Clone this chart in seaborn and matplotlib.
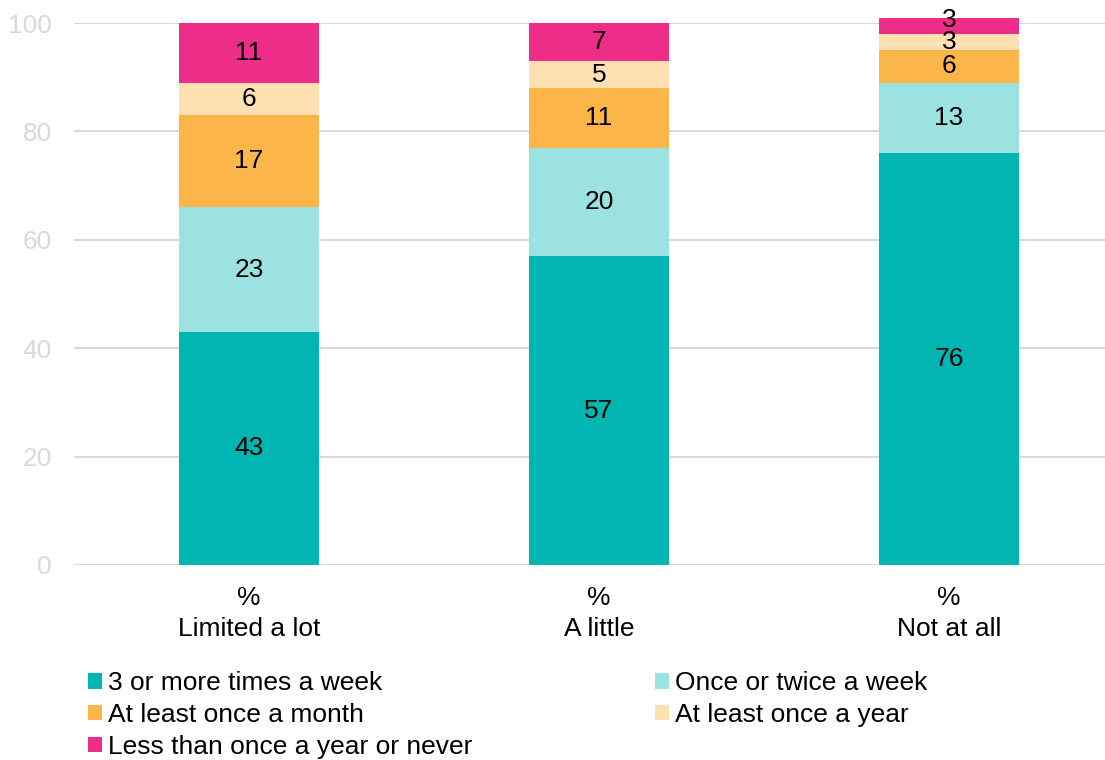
import numpy as np
import pandas as pd
import matplotlib
matplotlib.use("Agg")
import matplotlib.pyplot as plt
from matplotlib.patches import Patch
import seaborn as sns

# Data
categories = ["Limited a lot", "A little", "Not at all"]
tick_labels = ["%\nLimited a lot", "%\nA little", "%\nNot at all"]
series_names = [
    "3 or more times a week",
    "Once or twice a week",
    "At least once a month",
    "At least once a year",
    "Less than once a year or never",
]
three_plus_week = [43, 57, 76]
once_twice_week = [23, 20, 13]
once_month = [17, 11, 6]
once_year = [6, 5, 3]
less_never = [11, 7, 3]
series_values = [three_plus_week, once_twice_week, once_month, once_year, less_never]
colors = ["#00B5B2", "#9CE2E0", "#FBB548", "#FFE0B3", "#EE2D88"]

sns.set_theme(style="white")
plt.rcParams["font.family"] = ["Liberation Sans", "DejaVu Sans"]
FS = 19

fig = plt.figure(figsize=(11.05, 7.6), dpi=100)
ax = fig.add_axes([0.067, 0.2566, 0.933, 0.7131])

bottom = np.zeros(len(categories))
for name, vals, col in zip(series_names, series_values, colors):
    df = pd.DataFrame({"category": categories, "value": vals})
    sns.barplot(data=df, x="category", y="value", bottom=bottom, color=col,
                width=0.4, saturation=1, ax=ax, linewidth=0, clip_on=False,
                zorder=3)
    bottom = bottom + np.array(vals, dtype=float)

label_sets = []
for cont in ax.containers:
    anns = ax.bar_label(cont, labels=[f"{r.get_height():.0f}" for r in cont],
                        label_type="center", fontsize=FS, color="black")
    label_sets.append(anns)

# lift the thin top segment's label of the last bar a little
label_sets[-1][-1].xyann = (0, 6)

ax.set_ylim(0, 100)
ax.set_xlim(-0.5, 2.446)
ax.set_yticks([0, 20, 40, 60, 80, 100])
ax.yaxis.grid(True, color="#D9D9D9", linewidth=1.5, zorder=0)
ax.set_axisbelow(True)
for s in ax.spines.values():
    s.set_visible(False)
ax.set_xticks(range(len(categories)))
ax.set_xticklabels(tick_labels, fontsize=FS, color="black", linespacing=1.38)
ax.tick_params(axis="x", length=0, pad=15)
ax.tick_params(axis="y", length=0, pad=16, labelsize=FS, labelcolor="#D9D9D9")
ax.set_xlabel("")
ax.set_ylabel("")

handles = [Patch(facecolor=c, edgecolor="none", label=n)
           for n, c in zip(series_names, colors)]
order = [0, 2, 4, 1, 3]
leg = fig.legend([handles[i] for i in order], [series_names[i] for i in order],
                 loc="upper left", bbox_to_anchor=(0.0795, 0.117), ncol=2,
                 frameon=False, fontsize=FS, handlelength=0.53, handleheight=0.53,
                 handletextpad=0.25, labelspacing=0.3, columnspacing=6.9,
                 borderaxespad=0, borderpad=0)
for t in leg.get_texts():
    t.set_color("black")

fig.savefig("out.png", dpi=100)
